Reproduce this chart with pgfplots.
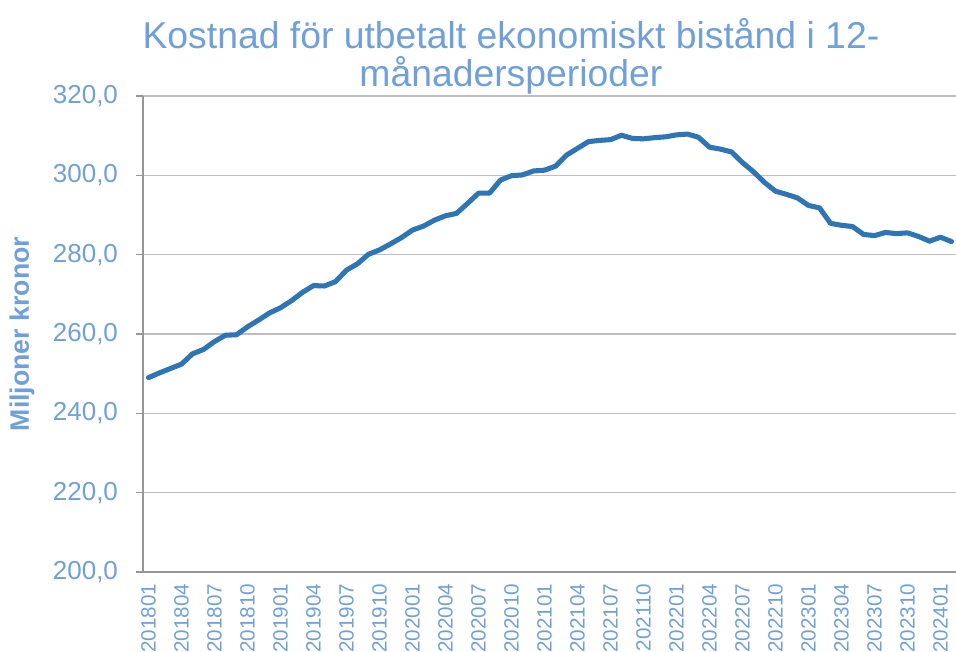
\documentclass[border=0pt]{standalone}
\usepackage{pgfplots}
\pgfplotsset{compat=1.18}
\usepackage{fontspec}
\setmainfont{Liberation Sans}
\definecolor{txt}{RGB}{111,160,220}
\definecolor{line}{RGB}{46,117,182}
\definecolor{gridc}{RGB}{190,190,190}
\definecolor{axc}{RGB}{150,150,150}
\pgfplotstableread{
i v
0 249.0
1 250.2
2 251.3
3 252.4
4 255.0
5 256.1
6 258.1
7 259.7
8 259.8
9 261.8
10 263.5
11 265.3
12 266.6
13 268.4
14 270.5
15 272.2
16 272.1
17 273.2
18 276.1
19 277.7
20 280.1
21 281.2
22 282.7
23 284.3
24 286.2
25 287.2
26 288.7
27 289.8
28 290.4
29 292.9
30 295.5
31 295.5
32 298.8
33 299.9
34 300.1
35 301.1
36 301.3
37 302.3
38 305.1
39 306.8
40 308.5
41 308.8
42 309.0
43 310.1
44 309.3
45 309.2
46 309.5
47 309.7
48 310.2
49 310.4
50 309.6
51 307.1
52 306.6
53 305.9
54 303.2
55 300.9
56 298.2
57 296.0
58 295.2
59 294.3
60 292.4
61 291.8
62 287.9
63 287.4
64 287.1
65 285.1
66 284.8
67 285.6
68 285.3
69 285.5
70 284.6
71 283.4
72 284.4
73 283.3
}\data
\begin{document}
\begin{tikzpicture}
\useasboundingbox (-107.25pt,-60pt) rectangle (609.75pt,429pt);
\begin{axis}[
  at={(0,0)}, anchor=south west,
  scale only axis,
  width=610.5pt, height=357pt,
  xmin=-0.5, xmax=73.5,
  ymin=200, ymax=320,
  ytick={200,220,...,320},
  xtick={0,3,...,72},
  xticklabels={201801,201804,201807,201810,201901,201904,201907,201910,202001,202004,202007,202010,202101,202104,202107,202110,202201,202204,202207,202210,202301,202304,202307,202310,202401},
  axis x line*=bottom, axis y line*=left,
  axis line style={axc, line width=1.1pt, -},
  ymajorgrids, grid style={gridc, line width=1.1pt},
  major tick length=5.25pt,
  ytick style={axc, line width=1.1pt},
  xtick style={draw=none},
  tick align=outside,
  /pgf/number format/.cd, fixed, fixed zerofill, precision=1, use comma, assume math mode=true,
  /pgfplots/.cd,
  yticklabel style={font=\fontsize{19.5pt}{23pt}\selectfont, color=txt, xshift=-10pt},
  xticklabel style={font=\fontsize{15.5pt}{18pt}\selectfont, color=txt, rotate=90, anchor=east},
  ylabel={Miljoner kronor},
  ylabel style={font=\fontsize{20pt}{24pt}\selectfont\bfseries, color=txt, at={(rel axis cs:0,0.5)}, yshift=90.75pt, anchor=center},
  title={Kostnad för utbetalt ekonomiskt bistånd i 12-\\månadersperioder},
  title style={font=\fontsize{28pt}{28.5pt}\selectfont, color=txt, align=center, at={(rel axis cs:0.452,1)}, anchor=south, inner sep=0pt, yshift=-5pt},
  clip=true,
]
\addplot[line, line width=3.8pt, line join=round, line cap=round] table[x=i, y=v] {\data};
\end{axis}
\end{tikzpicture}
\end{document}
